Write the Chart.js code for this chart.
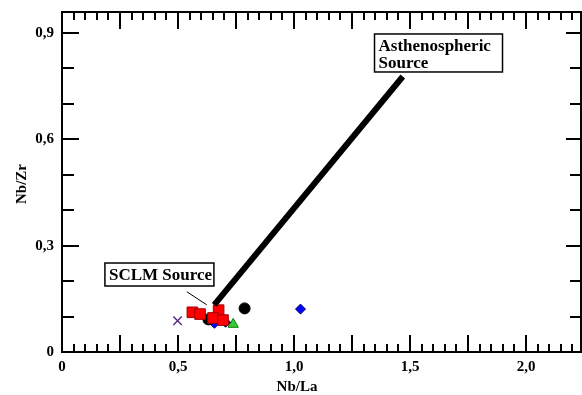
<!DOCTYPE html>
<html>
<head>
<meta charset="utf-8">
<script src="https://cdn.jsdelivr.net/npm/chart.js@4.4.0/dist/chart.umd.min.js"></script>
<style>
  html, body { margin: 0; padding: 0; background: #fff; }
</style>
</head>
<body>
<canvas id="plot" width="582" height="395"></canvas>
<script>
// axis ticks
const xTicks = [0, 0.5, 1.0, 1.5, 2.0];
const yTicks = [0, 0.3, 0.6, 0.9];

// samples (Nb/La, Nb/Zr)
const redSquares = [
  { x: 0.562, y: 0.112 }, { x: 0.595, y: 0.107 }, { x: 0.675, y: 0.118 },
  { x: 0.651, y: 0.096 }, { x: 0.694, y: 0.090 }
];
const blackCircles = [{ x: 0.631, y: 0.092 }, { x: 0.787, y: 0.123 }];
const blueDiamonds = [{ x: 0.657, y: 0.081 }, { x: 0.705, y: 0.084 }, { x: 1.028, y: 0.121 }];
const greenTriangles = [{ x: 0.738, y: 0.078 }];
const purpleCrosses = [{ x: 0.498, y: 0.088 }];

// mixing trend and label leader
const trendLine = [{ x: 0.656, y: 0.133 }, { x: 1.469, y: 0.777 }];
const leaderLine = [{ x: 0.538, y: 0.170 }, { x: 0.624, y: 0.133 }];

const FONT = '"Liberation Serif", "Times New Roman", serif';

function fmt(v) {
  return v === 0 ? '0' : v.toFixed(1).replace('.', ',');
}

function drawBox(ctx, left, top, w, h, lines, size) {
  ctx.fillStyle = '#fff';
  ctx.fillRect(left, top, w, h);
  ctx.strokeStyle = '#000';
  ctx.lineWidth = 1.5;
  ctx.strokeRect(left, top, w, h);
  ctx.fillStyle = '#000';
  ctx.font = 'bold ' + size + 'px ' + FONT;
  ctx.textBaseline = 'alphabetic';
  ctx.textAlign = 'left';
  lines.forEach((t, i) => ctx.fillText(t, left + 4, top + size + i * size));
}

function noPad(s) {
  s.paddingLeft = 0; s.paddingRight = 0; s.paddingTop = 0; s.paddingBottom = 0;
}

const frame = {
  id: 'frame',
  afterDatasetsDraw(chart) {
    const { ctx, chartArea: a, scales: { x, y } } = chart;
    ctx.save();
    ctx.strokeStyle = '#000';
    ctx.lineWidth = 2;
    ctx.strokeRect(a.left, a.top, a.right - a.left, a.bottom - a.top);

    ctx.beginPath();
    for (let i = 0; i * 0.05 <= x.max + 1e-9; i++) {
      const px = Math.round(x.getPixelForValue(i * 0.05));
      const big = i % 5 === 0;
      ctx.moveTo(px, a.bottom); ctx.lineTo(px, a.bottom - (big ? 17 : 8));
      ctx.moveTo(px, a.top); ctx.lineTo(px, a.top + (big ? 17 : 8));
    }
    for (let i = 0; i * 0.1 <= y.max + 1e-9; i++) {
      const py = Math.round(y.getPixelForValue(i * 0.1));
      const big = i % 3 === 0;
      ctx.moveTo(a.left, py); ctx.lineTo(a.left + (big ? 17 : 12), py);
      ctx.moveTo(a.right, py); ctx.lineTo(a.right - (big ? 15 : 11), py);
    }
    ctx.stroke();

    // axis titles
    ctx.fillStyle = '#000';
    ctx.font = 'bold 15px ' + FONT;
    ctx.textAlign = 'center';
    ctx.textBaseline = 'middle';
    ctx.fillText('Nb/La', 297, 387);
    ctx.save();
    ctx.translate(22, 184);
    ctx.rotate(-Math.PI / 2);
    ctx.fillText('Nb/Zr', 0, 0);
    ctx.restore();

    // source labels, anchored in data units
    drawBox(ctx, x.getPixelForValue(0.185), y.getPixelForValue(0.251), 109, 23, ['SCLM Source'], 17);
    drawBox(ctx, x.getPixelForValue(1.347), y.getPixelForValue(0.897), 128, 38, ['Asthenospheric', 'Source'], 17);
    ctx.restore();
  }
};

const pts = (data, style, radius, fill, border, bw) => ({
  type: 'scatter', data, pointStyle: style, pointRadius: radius, pointHoverRadius: radius,
  backgroundColor: fill, borderColor: border, borderWidth: bw
});

new Chart(document.getElementById('plot'), {
  type: 'scatter',
  data: {
    datasets: [
      { type: 'line', data: leaderLine, borderColor: '#000', borderWidth: 1, pointRadius: 0 },
      { type: 'line', data: trendLine, borderColor: '#000', borderWidth: 6, pointRadius: 0, borderCapStyle: 'butt' },
      pts(purpleCrosses, 'crossRot', 6, '#5a2a80', '#5a2a80', 1.5),
      pts(redSquares, 'rect', 7.5, '#ff0000', '#a00000', 1),
      pts(blackCircles, 'circle', 5.5, '#000', '#000', 1),
      pts(blueDiamonds, 'rectRot', 5, '#0000ff', '#000060', 1),
      pts(greenTriangles, 'triangle', 6, '#33cc33', '#118811', 1)
    ]
  },
  options: {
    responsive: false,
    devicePixelRatio: 1,
    animation: false,
    layout: { autoPadding: false, padding: { top: 12, right: 1, left: 0, bottom: 0 } },
    plugins: { legend: { display: false }, tooltip: { enabled: false } },
    scales: {
      x: {
        type: 'linear', min: 0, max: 2.237,
        grid: { display: false, drawTicks: false }, border: { display: false },
        afterBuildTicks: s => { s.ticks = xTicks.map(v => ({ value: v })); },
        afterFit: s => { s.height = 43; noPad(s); },
        ticks: {
          padding: 6, maxRotation: 0, autoSkip: false, color: '#000',
          font: { family: FONT, size: 15, weight: 'bold' },
          callback: v => fmt(v)
        }
      },
      y: {
        type: 'linear', min: 0, max: 0.959,
        grid: { display: false, drawTicks: false }, border: { display: false },
        afterBuildTicks: s => { s.ticks = yTicks.map(v => ({ value: v })); },
        afterFit: s => { s.width = 62; noPad(s); },
        ticks: {
          padding: 8, autoSkip: false, color: '#000',
          font: { family: FONT, size: 15, weight: 'bold' },
          callback: v => fmt(v)
        }
      }
    }
  },
  plugins: [frame]
});
</script>
</body>
</html>
